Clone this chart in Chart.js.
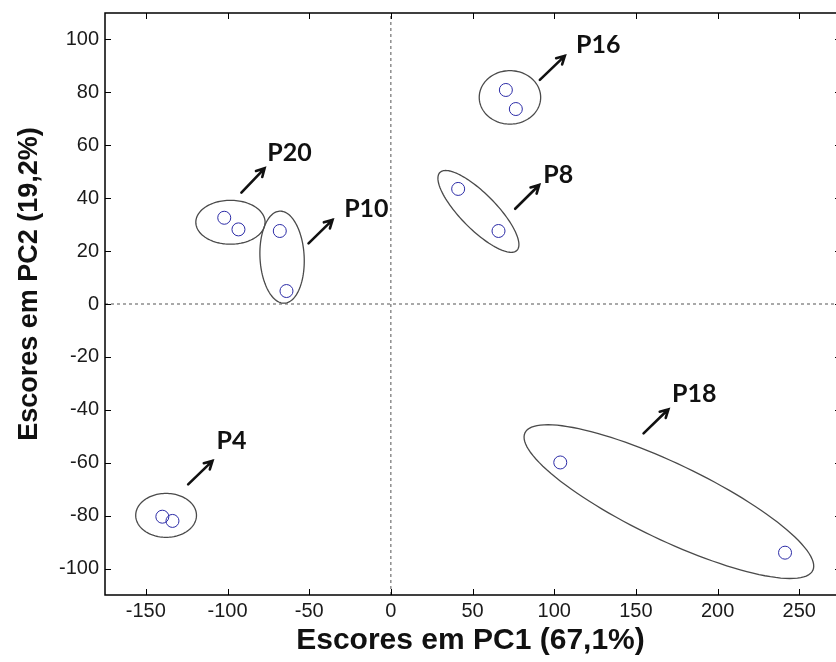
<!DOCTYPE html>
<html>
<head>
<meta charset="utf-8">
<script src="https://cdn.jsdelivr.net/npm/chart.js@4.4.1/dist/chart.umd.min.js"></script>
<style>
  html, body { margin: 0; padding: 0; background: #fff; }
  #wrap { width: 836px; height: 662px; position: relative; }
</style>
</head>
<body>
<div id="wrap"><canvas id="pca"></canvas></div>
<script>
// PCA scores (two replicates per sample)
const samples = ['P4', 'P4', 'P8', 'P8', 'P10', 'P10', 'P16', 'P16', 'P18', 'P18', 'P20', 'P20'];
const pc1 = [-139.9, -133.7, 41.2, 65.9, -68.0, -63.9, 70.4, 76.5, 103.7, 241.3, -102.0, -93.3];
const pc2 = [-80.4, -82.0, 43.5, 27.6, 27.6, 4.9, 80.9, 73.7, -59.9, -94.0, 32.6, 28.2];

// axis ticks
const xTicks = [-150, -100, -50, 0, 50, 100, 150, 200, 250];
const yTicks = [-100, -80, -60, -40, -20, 0, 20, 40, 60, 80, 100];
const xRange = [-175, 272.5];
const yRange = [-110, 110];

// group ellipses: centre and two half-axis vectors, in score units
const groups = ['P4', 'P8', 'P10', 'P16', 'P18', 'P20'];
const ellCenter = [[-137.6, -79.9], [53.6, 35.0], [-66.6, 17.7], [72.9, 78.1], [170.2, -74.7], [-98.2, 30.9]];
const ellAxisA = [[18.6, 0], [23.6, -14.7], [-1.5, 17.4], [18.8, 0], [88.1, -26.0], [21.2, 0]];
const ellAxisB = [[0, 8.3], [7.6, 4.8], [13.5, 0.5], [0, 10.1], [-10.0, -13.0], [0, 8.3]];

// arrows and labels
const arrowFrom = [[-124.1, -68.2], [76.1, 36.0], [-50.4, 22.9], [91.2, 84.7], [154.7, -48.9], [-91.5, 42.1]];
const arrowTo = [[-109.2, -59.3], [90.8, 45.0], [-35.7, 31.8], [106.5, 93.8], [169.9, -39.8], [-77.3, 51.3]];
const labelAt = [[-106.8, -54.9], [93.3, 45.9], [-28.6, 33.0], [113.3, 94.8], [172.1, -36.9], [-75.6, 54.1]];

const pcaDecor = {
    id: 'pcaDecor',
    afterDatasetsDraw(chart) {
        const ctx = chart.ctx;
        const xs = chart.scales.x, ys = chart.scales.y;
        const area = chart.chartArea;
        const px = v => xs.getPixelForValue(v);
        const py = v => ys.getPixelForValue(v);

        ctx.save();
        ctx.beginPath();
        ctx.rect(area.left, area.top, area.right - area.left, area.bottom - area.top);
        ctx.clip();

        // ellipses
        ctx.strokeStyle = '#4a4a4a';
        ctx.lineWidth = 1.3;
        groups.forEach((g, i) => {
            const c = ellCenter[i], a = ellAxisA[i], b = ellAxisB[i];
            ctx.beginPath();
            for (let k = 0; k <= 120; k++) {
                const t = k / 120 * Math.PI * 2;
                const x = px(c[0] + a[0] * Math.cos(t) + b[0] * Math.sin(t));
                const y = py(c[1] + a[1] * Math.cos(t) + b[1] * Math.sin(t));
                if (k === 0) ctx.moveTo(x, y); else ctx.lineTo(x, y);
            }
            ctx.closePath();
            ctx.stroke();
        });

        // arrows
        ctx.strokeStyle = '#111';
        ctx.lineWidth = 2.6;
        ctx.lineCap = 'round';
        groups.forEach((g, i) => {
            const x0 = px(arrowFrom[i][0]), y0 = py(arrowFrom[i][1]);
            const x1 = px(arrowTo[i][0]), y1 = py(arrowTo[i][1]);
            const ang = Math.atan2(y1 - y0, x1 - x0);
            ctx.beginPath();
            ctx.moveTo(x0, y0);
            ctx.lineTo(x1, y1);
            ctx.moveTo(x1 - 9 * Math.cos(ang - 0.5), y1 - 9 * Math.sin(ang - 0.5));
            ctx.lineTo(x1, y1);
            ctx.lineTo(x1 - 9 * Math.cos(ang + 0.5), y1 - 9 * Math.sin(ang + 0.5));
            ctx.stroke();
        });

        // labels
        ctx.fillStyle = '#111';
        ctx.font = 'bold 25px Lato';
        ctx.textAlign = 'left';
        ctx.textBaseline = 'alphabetic';
        groups.forEach((g, i) => {
            ctx.fillText(g, px(labelAt[i][0]), py(labelAt[i][1]));
        });
        ctx.restore();

        // frame and inward tick marks (right side of the box sits just past the canvas)
        const right = area.right + 5;
        ctx.save();
        ctx.strokeStyle = '#000';
        ctx.lineWidth = 1.5;
        ctx.strokeRect(area.left, area.top, right - area.left, area.bottom - area.top);
        ctx.lineWidth = 1;
        ctx.beginPath();
        xs.ticks.forEach(t => {
            const x = Math.round(px(t.value)) + 0.5;
            ctx.moveTo(x, area.bottom); ctx.lineTo(x, area.bottom - 6);
            ctx.moveTo(x, area.top); ctx.lineTo(x, area.top + 6);
        });
        ys.ticks.forEach(t => {
            const y = Math.round(py(t.value)) + 0.5;
            ctx.moveTo(area.left, y); ctx.lineTo(area.left + 6, y);
            ctx.moveTo(right, y); ctx.lineTo(right - 6, y);
        });
        ctx.stroke();

        // y axis title
        ctx.translate(37, 284);
        ctx.rotate(-Math.PI / 2);
        ctx.fillStyle = '#111';
        ctx.font = 'bold 27px "Liberation Sans", Arial, sans-serif';
        ctx.textAlign = 'center';
        ctx.textBaseline = 'alphabetic';
        ctx.fillText('Escores em PC2 (19,2%)', 0, 0);
        ctx.restore();
    }
};

// pin the plot box: left 105, top 13, bottom 595, right at the canvas edge
function pinPadding(s) {
    s.paddingLeft = 0;
    s.paddingTop = 0;
    s.paddingBottom = 0;
    s.paddingRight = 0;
}

const ctx = document.getElementById('pca').getContext('2d');
new Chart(ctx, {
    type: 'scatter',
    data: {
        datasets: [
            {
                label: 'zero x',
                data: [{ x: xRange[0], y: 0 }, { x: xRange[1], y: 0 }],
                showLine: true,
                borderColor: '#555',
                borderWidth: 1,
                borderDash: [3, 3],
                pointRadius: 0
            },
            {
                label: 'zero y',
                data: [{ x: 0, y: yRange[0] }, { x: 0, y: yRange[1] }],
                showLine: true,
                borderColor: '#555',
                borderWidth: 1,
                borderDash: [3, 3],
                pointRadius: 0
            },
            {
                label: 'Escores',
                data: pc1.map((v, i) => ({ x: v, y: pc2[i], s: samples[i] })),
                pointRadius: 6.5,
                pointBorderColor: '#2b2ba6',
                pointBackgroundColor: 'rgba(0,0,0,0)',
                pointBorderWidth: 1
            }
        ]
    },
    options: {
        responsive: true,
        maintainAspectRatio: false,
        animation: false,
        layout: { autoPadding: false, padding: { left: 0, top: 13, right: 0, bottom: 0 } },
        plugins: {
            legend: { display: false },
            tooltip: { enabled: false }
        },
        scales: {
            x: {
                type: 'linear',
                min: xRange[0],
                max: xRange[1],
                afterBuildTicks: s => { s.ticks = xTicks.map(v => ({ value: v })); },
                afterFit: s => { s.height = 67; pinPadding(s); },
                grid: { display: false, drawTicks: false },
                border: { display: false },
                ticks: {
                    padding: 4,
                    color: '#1a1a1a',
                    font: { family: '"Liberation Sans", Arial, sans-serif', size: 20 }
                },
                title: {
                    display: true,
                    text: 'Escores em PC1 (67,1%)',
                    color: '#111',
                    padding: { top: 0, bottom: 3 },
                    font: { family: '"Liberation Sans", Arial, sans-serif', size: 30, weight: 'bold' }
                }
            },
            y: {
                type: 'linear',
                min: yRange[0],
                max: yRange[1],
                afterBuildTicks: s => { s.ticks = yTicks.map(v => ({ value: v })); },
                afterFit: s => { s.width = 105; pinPadding(s); },
                grid: { display: false, drawTicks: false },
                border: { display: false },
                ticks: {
                    padding: 6,
                    color: '#1a1a1a',
                    font: { family: '"Liberation Sans", Arial, sans-serif', size: 20 }
                }
            }
        }
    },
    plugins: [pcaDecor]
});
</script>
</body>
</html>
